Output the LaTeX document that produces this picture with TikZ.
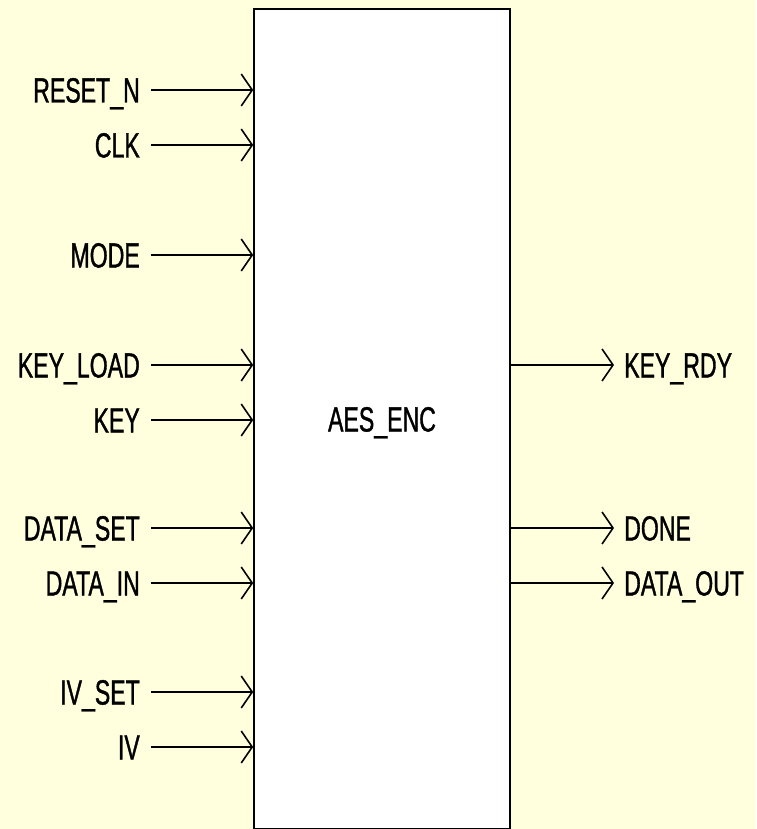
\documentclass[tikz,border=0pt]{standalone}
\usepackage{fontspec}
\setmainfont[FakeStretch=0.66, FakeBold=1]{Liberation Sans}
\usetikzlibrary{arrows.meta,positioning}
\definecolor{sheet}{RGB}{255,255,221}

\begin{document}
\begin{tikzpicture}[x=1pt, y=-1pt,
  port/.style={inner sep=0pt, font=\fontsize{35}{35}\selectfont, text height=25pt, text depth=0pt},
  inport/.style={port, anchor=east},
  outport/.style={port, anchor=west},
  wire/.style={line width=1.6pt, -{Straight Barb[length=11pt, width=32pt, line width=1.6pt]}}]

  \fill[sheet] (0,0) rectangle (756,829);
  \useasboundingbox (0,0) rectangle (756,829);

  \node[draw, line width=1.6pt, fill=white, minimum width=256pt, minimum height=820pt, inner sep=0pt, port] (enc) at (382,419) {AES\_ENC};

  \node[inport] (rstn) at (140,90) {RESET\_N};
  \node[inport] (clk) at (140,145) {CLK};
  \node[inport] (mode) at (140,255) {MODE};
  \node[inport] (keyload) at (140,365) {KEY\_LOAD};
  \node[inport] (key) at (140,420) {KEY};
  \node[inport] (dataset) at (140,528) {DATA\_SET};
  \node[inport] (datain) at (140,583) {DATA\_IN};
  \node[inport] (ivset) at (140,692) {IV\_SET};
  \node[inport] (iv) at (140,747) {IV};

  \node[outport] (keyrdy) at (624,365) {KEY\_RDY};
  \node[outport] (done) at (624,528) {DONE};
  \node[outport] (dataout) at (624,583) {DATA\_OUT};

  \draw[wire] ([xshift=11pt]rstn.east) -- (enc.west |- rstn.east);
  \draw[wire] ([xshift=11pt]clk.east) -- (enc.west |- clk.east);
  \draw[wire] ([xshift=11pt]mode.east) -- (enc.west |- mode.east);
  \draw[wire] ([xshift=11pt]keyload.east) -- (enc.west |- keyload.east);
  \draw[wire] ([xshift=11pt]key.east) -- (enc.west |- key.east);
  \draw[wire] ([xshift=11pt]dataset.east) -- (enc.west |- dataset.east);
  \draw[wire] ([xshift=11pt]datain.east) -- (enc.west |- datain.east);
  \draw[wire] ([xshift=11pt]ivset.east) -- (enc.west |- ivset.east);
  \draw[wire] ([xshift=11pt]iv.east) -- (enc.west |- iv.east);

  \draw[wire] (enc.east |- keyrdy.west) -- ([xshift=-10pt]keyrdy.west);
  \draw[wire] (enc.east |- done.west) -- ([xshift=-10pt]done.west);
  \draw[wire] (enc.east |- dataout.west) -- ([xshift=-10pt]dataout.west);

\end{tikzpicture}
\end{document}
